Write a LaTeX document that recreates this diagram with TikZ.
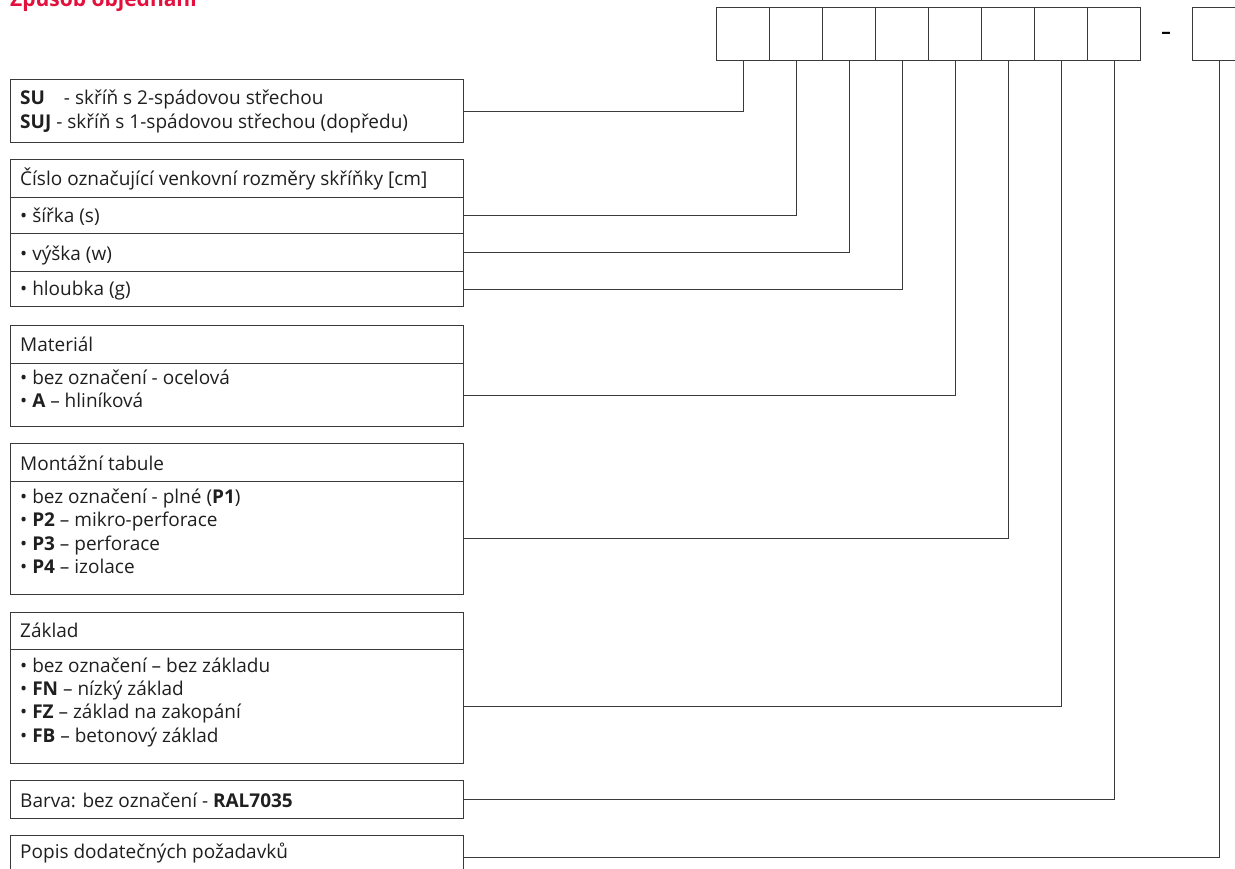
\documentclass[tikz,border=0pt]{standalone}
\usepackage{fontspec}
\setmainfont{Open Sans}
\definecolor{titlered}{HTML}{E3103D}
\definecolor{linegray}{HTML}{3A3A3A}
\begin{document}
\begin{tikzpicture}[x=1pt,y=-1pt,
  every node/.style={font=\fontsize{19}{22}\selectfont, text=black!88},
  codebox/.style={draw=linegray, line width=1.1pt, minimum width=53pt, minimum height=53pt, inner sep=0pt, anchor=north west},
  rowbox/.style={draw=linegray, line width=1.1pt, minimum width=453pt, inner sep=0pt, anchor=north west},
  txt/.style={anchor=base west, inner sep=0pt},
  conn/.style={draw=linegray, line width=1pt}]
\useasboundingbox (0,0) rectangle (1235,869);
% title
\node[txt, font=\fontsize{21}{24}\selectfont\bfseries, text=titlered] (title) at (10,7) {Způsob objednání};
% code boxes
\foreach \i in {1,...,8} {\node[codebox] (c\i) at ({716+53*(\i-1)},7) {};}
\node[anchor=center, inner sep=0pt, text=black] (dash) at (1166,35) {\textbf{–}};
\node[codebox] (c9) at (1192,7) {};
% SU
\node[rowbox, minimum height=63pt] (su) at (10,79) {};
\node[txt] (su1) at (20,105) {\textbf{SU}\hspace{14pt} - skříň s 2-spádovou střechou};
\node[txt] (su2) at (20,129) {\textbf{SUJ} - skříň s 1-spádovou střechou (dopředu)};
% dimensions
\node[rowbox, minimum height=38pt] (dimh) at (10,159) {};
\node[txt] at (20,186) {Číslo označující venkovní rozměry skříňky [cm]};
\node[rowbox, minimum height=36pt] (dims) at (10,197) {};
\node[txt] at (20,223) {• šířka (s)};
\node[rowbox, minimum height=38pt] (dimw) at (10,233) {};
\node[txt] at (20,261) {• výška (w)};
\node[rowbox, minimum height=35pt] (dimg) at (10,271) {};
\node[txt] at (20,296) {• hloubka (g)};
% material
\node[rowbox, minimum height=38pt] (math) at (10,325) {};
\node[txt] at (20,352) {Materiál};
\node[rowbox, minimum height=63pt] (matb) at (10,363) {};
\node[txt] at (20,384) {• bez označení  - ocelová};
\node[txt] at (20,407) {• \textbf{A} – hliníková};
% montazni tabule
\node[rowbox, minimum height=38pt] (monh) at (10,443) {};
\node[txt] at (20,470) {Montážní tabule};
\node[rowbox, minimum height=113pt] (monb) at (10,481) {};
\node[txt] at (20,503) {• bez označení - plné (\textbf{P1})};
\node[txt] at (20,526) {• \textbf{P2} – mikro-perforace};
\node[txt] at (20,550) {• \textbf{P3} – perforace};
\node[txt] at (20,573) {• \textbf{P4} – izolace};
% zaklad
\node[rowbox, minimum height=37pt] (zakh) at (10,612) {};
\node[txt] at (20,637) {Základ};
\node[rowbox, minimum height=114pt] (zakb) at (10,649) {};
\node[txt] at (20,672) {• bez označení – bez základu};
\node[txt] at (20,695) {• \textbf{FN} – nízký základ};
\node[txt] at (20,718) {• \textbf{FZ} – základ na zakopání};
\node[txt] at (20,742) {• \textbf{FB} – betonový základ};
% barva
\node[rowbox, minimum height=38pt] (bar) at (10,780) {};
\node[txt] at (20,807) {Barva: bez označení - \textbf{RAL7035}};
% popis
\node[rowbox, minimum height=44pt] (pop) at (10,835) {};
\node[txt] at (20,858) {Popis dodatečných požadavků};
% connectors
\draw[conn] (su.east) -| (c1.south);
\draw[conn] (dims.east) -| (c2.south);
\draw[conn] (dimw.east) -| (c3.south);
\draw[conn] (dimg.east) -| (c4.south);
\draw[conn] (matb.east) -| (c5.south);
\draw[conn] (monb.east) -| (c6.south);
\draw[conn] (zakb.east) -| (c7.south);
\draw[conn] (bar.east) -| (c8.south);
\draw[conn] (pop.east) -| (c9.south);
\end{tikzpicture}
\end{document}
